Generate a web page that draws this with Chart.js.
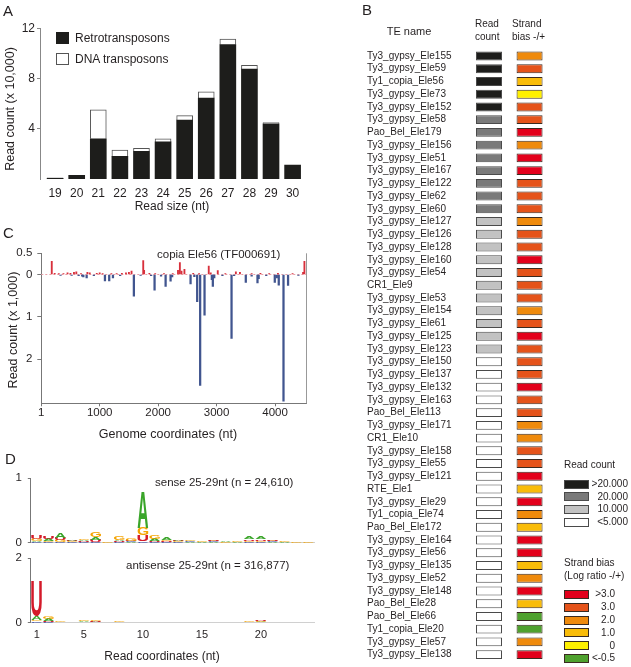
<!DOCTYPE html>
<html>
<head>
<meta charset="utf-8">
<script src="https://cdn.jsdelivr.net/npm/chart.js@4.4.0/dist/chart.umd.min.js"></script>
<style>
body { margin: 0; background: #fff; font-family: "Liberation Sans", Arial, sans-serif; color: #231f20; }
#page { position: relative; width: 631px; height: 667px; overflow: hidden; }
canvas { position: absolute; }
.t { position: absolute; white-space: nowrap; line-height: 1; transform: translateY(-50%); }
.c { transform: translate(-50%, -50%); }
.r90 { transform: translate(-50%, -50%) rotate(-90deg); }
.sw { position: absolute; box-sizing: border-box; }
</style>
</head>
<body>
<div id="page">
  <canvas id="cA" width="320" height="222" style="left:0;top:0"></canvas>
  <canvas id="cB" width="271" height="667" style="left:360px;top:0"></canvas>
  <canvas id="cC" width="320" height="220" style="left:0;top:225px"></canvas>
  <canvas id="cD1" width="320" height="100" style="left:0;top:460px"></canvas>
  <canvas id="cD2" width="320" height="110" style="left:0;top:540px"></canvas>

  <!-- panel letters -->
  <div class="t" style="left:3px;top:10px;font-size:15px">A</div>
  <div class="t" style="left:362px;top:9px;font-size:15px">B</div>
  <div class="t" style="left:3px;top:232px;font-size:15px">C</div>
  <div class="t" style="left:5px;top:458px;font-size:15px">D</div>

  <!-- A -->
  <div class="t r90" style="left:10px;top:109px;font-size:12.5px">Read count (x 10,000)</div>
  <div class="t c" style="left:172px;top:206px;font-size:12px">Read size (nt)</div>
  <div class="sw" style="left:56px;top:32px;width:13px;height:12px;background:#1d1d1b"></div>
  <div class="sw" style="left:56px;top:53px;width:13px;height:12px;background:#fff;border:1px solid #555"></div>
  <div class="t" style="left:75px;top:38px;font-size:12px">Retrotransposons</div>
  <div class="t" style="left:75px;top:59px;font-size:12px">DNA transposons</div>

  <!-- B header -->
  <div class="t c" style="left:409px;top:31px;font-size:11px">TE name</div>
  <div class="t" style="left:475px;top:24px;font-size:10px">Read</div>
  <div class="t" style="left:475px;top:37px;font-size:10px">count</div>
  <div class="t" style="left:512px;top:24px;font-size:10px">Strand</div>
  <div class="t" style="left:512px;top:37px;font-size:10px">bias -/+</div>
  <div class="t" style="left:564px;top:465px;font-size:10px">Read count</div>
  <div class="t" style="left:564px;top:563px;font-size:10px">Strand bias</div>
  <div class="t" style="left:564px;top:576px;font-size:10px">(Log ratio -/+)</div>
  <div id="legB"></div>

  <!-- C -->
  <div class="t r90" style="left:13px;top:330px;font-size:12.5px">Read count (x 1,000)</div>
  <div class="t c" style="left:168px;top:434px;font-size:12.5px">Genome coordinates (nt)</div>
  <div class="t" style="left:157px;top:255px;font-size:11.5px">copia Ele56 (TF000691)</div>

  <!-- D -->
  <div class="t" style="left:155px;top:483px;font-size:11.5px">sense 25-29nt (n = 24,610)</div>
  <div class="t" style="left:126px;top:566px;font-size:11.5px">antisense 25-29nt (n = 316,877)</div>
  <div class="t c" style="left:162px;top:656px;font-size:12px">Read coordinates (nt)</div>
</div>

<script>
// ---- A: read size distribution (x 10,000) ----
const readSizes = [19, 20, 21, 22, 23, 24, 25, 26, 27, 28, 29, 30];
const retroCounts = [0.05, 0.3, 3.2, 1.8, 2.2, 2.95, 4.7, 6.45, 10.7, 8.75, 4.4, 1.1];
const dnaCounts = [0.05, 0, 2.3, 0.5, 0.25, 0.25, 0.35, 0.5, 0.45, 0.3, 0.1, 0];
const countTicks = [4, 8, 12];

// ---- B: TE table ----
const teNames = [
  "Ty3_gypsy_Ele155", "Ty3_gypsy_Ele59", "Ty1_copia_Ele56", "Ty3_gypsy_Ele73", "Ty3_gypsy_Ele152",
  "Ty3_gypsy_Ele58", "Pao_Bel_Ele179", "Ty3_gypsy_Ele156", "Ty3_gypsy_Ele51", "Ty3_gypsy_Ele167",
  "Ty3_gypsy_Ele122", "Ty3_gypsy_Ele62", "Ty3_gypsy_Ele60", "Ty3_gypsy_Ele127", "Ty3_gypsy_Ele126",
  "Ty3_gypsy_Ele128", "Ty3_gypsy_Ele160", "Ty3_gypsy_Ele54", "CR1_Ele9", "Ty3_gypsy_Ele53",
  "Ty3_gypsy_Ele154", "Ty3_gypsy_Ele61", "Ty3_gypsy_Ele125", "Ty3_gypsy_Ele123", "Ty3_gypsy_Ele150",
  "Ty3_gypsy_Ele137", "Ty3_gypsy_Ele132", "Ty3_gypsy_Ele163", "Pao_Bel_Ele113", "Ty3_gypsy_Ele171",
  "CR1_Ele10", "Ty3_gypsy_Ele158", "Ty3_gypsy_Ele55", "Ty3_gypsy_Ele121", "RTE_Ele1",
  "Ty3_gypsy_Ele29", "Ty1_copia_Ele74", "Pao_Bel_Ele172", "Ty3_gypsy_Ele164", "Ty3_gypsy_Ele56",
  "Ty3_gypsy_Ele135", "Ty3_gypsy_Ele52", "Ty3_gypsy_Ele148", "Pao_Bel_Ele28", "Pao_Bel_Ele66",
  "Ty1_copia_Ele20", "Ty3_gypsy_Ele57", "Ty3_gypsy_Ele138"
];
// index into readCountLabels
const readCountClass = [0,0,0,0,0, 1,1,1,1,1, 1,1,1,2,2, 2,2,2,2,2, 2,2,2,2,3,
  3,3,3,3,3, 3,3,3,3,3, 3,3,3,3,3, 3,3,3,3,3, 3,3,3];
// index into strandLabels
const strandClass = [2,1,3,4,1, 1,0,2,0,0, 1,1,1,2,1, 1,0,1,1,1, 2,1,0,1,1,
  1,0,1,1,2, 2,1,1,0,3, 0,2,3,0,0, 3,2,0,3,5, 5,2,0];
const readCountLabels = [">20.000", "20.000", "10.000", "<5.000"];
const strandLabels = [">3.0", "3.0", "2.0", "1.0", "0", "<-0.5"];

// ---- C: copia Ele56 coverage (x 1,000) ----
const senseCoords = [180,230,300,380,450,500,560,600,680,790,830,950,1000,1050,1200,1290,1380,1450,1500,1545,
  1745,1760,1850,1950,2100,2250,2340,2372,2400,2450,2600,2700,2866,2900,3020,3150,3330,3400,3600,3750,
  3900,4050,4300,4480,4503];
const senseReads = [0.31,0.03,0.02,0.02,0.04,0.03,0.05,0.06,0.02,0.05,0.04,0.03,0.04,0.02,0.02,0.02,0.03,0.04,0.05,0.08,
  0.33,0.1,0.03,0.02,0.02,0.02,0.1,0.28,0.08,0.12,0.03,0.02,0.2,0.04,0.09,0.02,0.06,0.05,0.02,0.03,
  0.02,0.03,0.02,0.05,0.31];
const antiCoords = [330,520,640,700,720,777,900,1090,1163,1227,1350,1585,1700,1880,1939,2050,2128,2213,2240,2555,
  2620,2668,2719,2794,2919,2936,2960,3100,3256,3300,3500,3600,3700,3720,3850,3996,4030,4064,4145,4223,4400];
const antiReads = [0.02,0.02,0.03,0.04,0.06,0.08,0.03,0.15,0.15,0.08,0.03,0.51,0.02,0.03,0.37,0.04,0.28,0.16,0.06,0.22,
  0.05,0.64,2.62,0.96,0.12,0.28,0.08,0.03,1.51,0.03,0.19,0.04,0.2,0.1,0.03,0.19,0.08,0.25,2.99,0.26,0.02];
const genomeTicks = [1, 1000, 2000, 3000, 4000];
const coverageTicks = [0.5, 0, -1, -2];

// ---- D: sequence logos (bits) ----
const logoPositions = [1,2,3,4,5,6,7,8,9,10,11,12,13,14,15,16,17,18,19,20,21,22,23,24];
const senseA = [.02,.03,.08,.02,.02,.04,0,.02,.01,.56,.03,.04,.02,.01,.01,.01,.02,.01,.04,.04,.01,.01,0,0];
const senseC = [.01,.01,.01,.01,.01,.01,0,.01,.01,.02,.01,.01,.01,.01,0,.01,0,0,.01,.01,.01,0,0,0];
const senseG = [.03,.02,.03,.01,.02,.08,.01,.05,.03,.11,.06,.02,.01,.01,.01,.01,.01,.01,.02,.02,.01,.01,.01,.01];
const senseU = [.05,.04,.03,.01,.01,.03,0,.01,.01,.10,.02,.01,.01,0,0,.01,0,0,.02,.02,.01,0,0,0];
const antiA = [.10,.06,.01,.01,.02,.02,.01,.01,.01,.01,0,.01,0,0,.01,.01,.01,.01,.01,.02,.01,.01,0,.01];
const antiC = [.04,.02,.01,0,.01,.01,0,.01,.01,0,0,0,0,0,0,.01,.01,0,.01,.01,.01,0,0,0];
const antiG = [.05,.08,.02,.01,.02,.03,.01,.02,.01,.01,.01,.01,0,.01,.01,.01,.01,.01,.02,.02,.01,.01,0,.01];
const antiU = [1.08,.03,.01,.01,.01,.02,.01,.01,.01,0,0,0,0,0,.01,.01,.01,.01,.01,.02,.01,0,0,.01];
const logoTicks = [1, 5, 10, 15, 20];

// ---- styles ----
const ink = "#231f20";
const readCountColors = ["#1d1d1b", "#7a7a7a", "#c2c2c2", "#ffffff"];
const strandColors = ["#e3001b", "#e5531a", "#ef8a0c", "#f9bc09", "#fff000", "#4fa12e"];
const letterColors = { A: "#3aa52a", C: "#2a3ea0", G: "#f4a300", U: "#d41a2a" };

Chart.defaults.font.family = '"Liberation Sans", Arial, sans-serif';
Chart.defaults.color = ink;
Chart.defaults.animation = false;
Chart.defaults.responsive = false;
Chart.defaults.plugins.legend.display = false;
Chart.defaults.plugins.tooltip.enabled = false;

function fixTicks(list) {
  return s => { s.ticks = list.map(v => ({ value: v })); };
}

// nudge the layout padding until the plot area sits where it should
function pinArea(chart, t) {
  for (let k = 0; k < 4; k++) {
    const a = chart.chartArea;
    const p = chart.options.layout.padding;
    p.left += t.left - a.left;
    p.top += t.top - a.top;
    p.right += a.right - t.right;
    p.bottom += a.bottom - t.bottom;
    chart.update();
  }
}

// ---------- A ----------
const chartA = new Chart(document.getElementById("cA"), {
  type: "bar",
  data: {
    datasets: [
      { label: "Retrotransposons", data: readSizes.map((s, i) => ({ x: s, y: retroCounts[i] })),
        backgroundColor: "#1d1d1b", borderWidth: 0, barThickness: 16 },
      { label: "DNA transposons", data: readSizes.map((s, i) => ({ x: s, y: dnaCounts[i] })),
        backgroundColor: "#ffffff", borderColor: "#555", borderWidth: 1, barThickness: 16 }
    ]
  },
  options: {
    layout: { padding: { left: 0, top: 28, right: 16, bottom: 0 } },
    scales: {
      x: { type: "linear", min: 18.3, max: 30.5, stacked: true, offset: false,
        afterBuildTicks: fixTicks(readSizes),
        grid: { display: false, drawTicks: false, offset: false }, border: { display: false },
        ticks: { padding: 7.5, font: { size: 12 } },
        afterFit: s => { s.height = 43; } },
      y: { min: 0, max: 12, stacked: true,
        afterBuildTicks: fixTicks(countTicks),
        grid: { drawOnChartArea: false, tickLength: 3, color: "#888" },
        border: { color: "#888" },
        ticks: { padding: 2, font: { size: 12 } },
        afterFit: s => { s.width = 40; } }
    }
  }
});
pinArea(chartA, { left: 40, top: 28.3, right: 303.4, bottom: 179 });

// ---------- B ----------
const cellSpan = [[0, 1], [1.56, 2.56]];
new Chart(document.getElementById("cB"), {
  type: "bar",
  data: {
    labels: teNames,
    datasets: [
      { data: teNames.map(() => cellSpan[0]), backgroundColor: readCountClass.map(c => readCountColors[c]),
        borderColor: "#4a4a4a", borderWidth: 1, borderSkipped: false },
      { data: teNames.map(() => cellSpan[1]), backgroundColor: strandClass.map(c => strandColors[c]),
        borderColor: "#3a2a20", borderWidth: 1, borderSkipped: false }
    ]
  },
  options: {
    indexAxis: "y",
    grouped: false,
    categoryPercentage: 1,
    barPercentage: 0.7,
    layout: { padding: { left: 7, top: 49.6, right: 87.4, bottom: 2.3 } },
    scales: {
      x: { display: false, min: 0, max: 2.6 },
      y: { grid: { display: false, drawTicks: false }, border: { display: false },
        ticks: { crossAlign: "far", padding: 0, autoSkip: false, font: { size: 10 } },
        afterFit: s => { s.width = 109; } }
    }
  }
});

// legend for B
(function () {
  const box = document.getElementById("legB");
  let html = "";
  const rcY = [484, 496.7, 509.3, 522.3];
  readCountLabels.forEach((lab, i) => {
    html += `<div class="sw" style="left:564px;top:${rcY[i] - 4.5}px;width:25px;height:9px;background:${readCountColors[i]};border:1px solid #4a4a4a"></div>`;
    html += `<div class="t" style="right:${631 - 628}px;top:${rcY[i]}px;font-size:10px">${lab.replace("<", "&lt;")}</div>`;
  });
  const sbY = [594.3, 607, 620, 632.7, 645.7, 658.3];
  strandLabels.forEach((lab, i) => {
    html += `<div class="sw" style="left:564px;top:${sbY[i] - 4.5}px;width:25px;height:9px;background:${strandColors[i]};border:1px solid #3a2a20"></div>`;
    html += `<div class="t" style="right:${631 - 615}px;top:${sbY[i]}px;font-size:10px">${lab.replace("<", "&lt;")}</div>`;
  });
  box.innerHTML = html;
})();

// ---------- C ----------
const baselinePlugin = {
  id: "baseline",
  beforeDatasetsDraw(chart) {
    const { ctx, chartArea: a, scales: { y } } = chart;
    const y0 = Math.round(y.getPixelForValue(0)) + 0.5;
    ctx.save();
    ctx.strokeStyle = "#eaa0a8";
    ctx.lineWidth = 1;
    ctx.setLineDash([2, 2]);
    ctx.beginPath(); ctx.moveTo(a.left, y0); ctx.lineTo(a.right, y0); ctx.stroke();
    ctx.setLineDash([]);
    ctx.strokeStyle = "#999";
    ctx.beginPath(); ctx.moveTo(a.right + 0.5, a.top); ctx.lineTo(a.right + 0.5, a.bottom); ctx.stroke();
    ctx.restore();
  }
};

const chartC = new Chart(document.getElementById("cC"), {
  type: "bar",
  data: {
    datasets: [
      { label: "sense", data: senseCoords.map((c, i) => ({ x: c, y: senseReads[i] })),
        backgroundColor: "#d8303c", barThickness: 1.2 },
      { label: "antisense", data: antiCoords.map((c, i) => ({ x: c, y: -antiReads[i] })),
        backgroundColor: "#41558f", barThickness: 1.6 }
    ]
  },
  options: {
    layout: { padding: { left: 0, top: 28.3, right: 14, bottom: 0 } },
    scales: {
      x: { type: "linear", min: 1, max: 4530, stacked: true, offset: false,
        afterBuildTicks: fixTicks(genomeTicks),
        grid: { drawOnChartArea: false, tickLength: 3, color: "#777", offset: false },
        border: { color: "#777" },
        ticks: { padding: 0, font: { size: 11.5 }, callback: v => String(v) },
        afterFit: s => { s.height = 41.7; } },
      y: { min: -3.04, max: 0.5, stacked: true,
        afterBuildTicks: fixTicks(coverageTicks),
        grid: { drawOnChartArea: false, tickLength: 4, color: "#777" },
        border: { color: "#777" },
        ticks: { padding: 5, font: { size: 11.5 }, callback: v => String(Math.abs(v)) },
        afterFit: s => { s.width = 41.3; } }
    }
  },
  plugins: [baselinePlugin]
});
pinArea(chartC, { left: 41.3, top: 28.3, right: 306, bottom: 178.3 });

// ---------- D ----------
function drawGlyph(ctx, ch, color, x, y, w, h) {
  ctx.save();
  ctx.font = 'bold 100px "Liberation Sans", Arial, sans-serif';
  ctx.textBaseline = "alphabetic";
  ctx.textAlign = "left";
  const m = ctx.measureText(ch);
  const gw = m.actualBoundingBoxLeft + m.actualBoundingBoxRight;
  const gh = m.actualBoundingBoxAscent + m.actualBoundingBoxDescent;
  ctx.translate(x, y);
  ctx.scale(w / gw, h / gh);
  ctx.fillStyle = color;
  ctx.fillText(ch, m.actualBoundingBoxLeft, m.actualBoundingBoxAscent);
  ctx.restore();
}

const logoPlugin = {
  id: "logo",
  afterDatasetsDraw(chart) {
    const { ctx, scales: { x, y } } = chart;
    const sets = chart.data.datasets;
    sets[0].data.forEach((pt, i) => {
      const stack = sets.map(ds => ({ ch: ds.label, h: ds.data[i].y }))
        .sort((a, b) => a.h - b.h);
      const x0 = x.getPixelForValue(pt.x - 0.45);
      const x1 = x.getPixelForValue(pt.x + 0.45);
      let cum = 0;
      stack.forEach(s => {
        const yb = y.getPixelForValue(cum);
        const yt = y.getPixelForValue(cum + s.h);
        cum += s.h;
        if (yb - yt < 0.5) return;
        drawGlyph(ctx, s.ch, letterColors[s.ch], x0, yt, x1 - x0, yb - yt);
      });
    });
  }
};

function logoSets(a, c, g, u) {
  return [["A", a], ["C", c], ["G", g], ["U", u]].map(([ch, vals]) => ({
    label: ch,
    data: logoPositions.map((p, i) => ({ x: p, y: vals[i] })),
    backgroundColor: "rgba(0,0,0,0)",
    barThickness: 1
  }));
}

function logoChart(id, sets, yMax, showX, xHeight, top) {
  return new Chart(document.getElementById(id), {
    type: "bar",
    data: { datasets: sets },
    options: {
      layout: { padding: { left: 0, top: top, right: 6, bottom: 0 } },
      scales: {
        x: { type: "linear", min: 0.5, max: 24.5, stacked: true, offset: false,
          afterBuildTicks: fixTicks(logoTicks),
          grid: { display: false, drawTicks: false, offset: false },
          border: { color: "#d0d0d0" },
          ticks: { display: showX, padding: 5.7, font: { size: 11 } },
          afterFit: s => { s.height = xHeight; } },
        y: { min: 0, max: yMax, stacked: true,
          afterBuildTicks: fixTicks([0, yMax]),
          grid: { drawOnChartArea: false, tickLength: 3, color: "#777" },
          border: { color: "#777" },
          ticks: { padding: 6, font: { size: 11.5 } },
          afterFit: s => { s.width = 30.8; } }
      }
    },
    plugins: [logoPlugin]
  });
}

const chartD1 = logoChart("cD1", logoSets(senseA, senseC, senseG, senseU), 1, false, 17.3, 18);
pinArea(chartD1, { left: 30.8, top: 18, right: 314, bottom: 82.7 });
const chartD2 = logoChart("cD2", logoSets(antiA, antiC, antiG, antiU), 2, true, 27.3, 18.3);
pinArea(chartD2, { left: 30.8, top: 18.3, right: 314, bottom: 82.7 });
</script>
</body>
</html>
